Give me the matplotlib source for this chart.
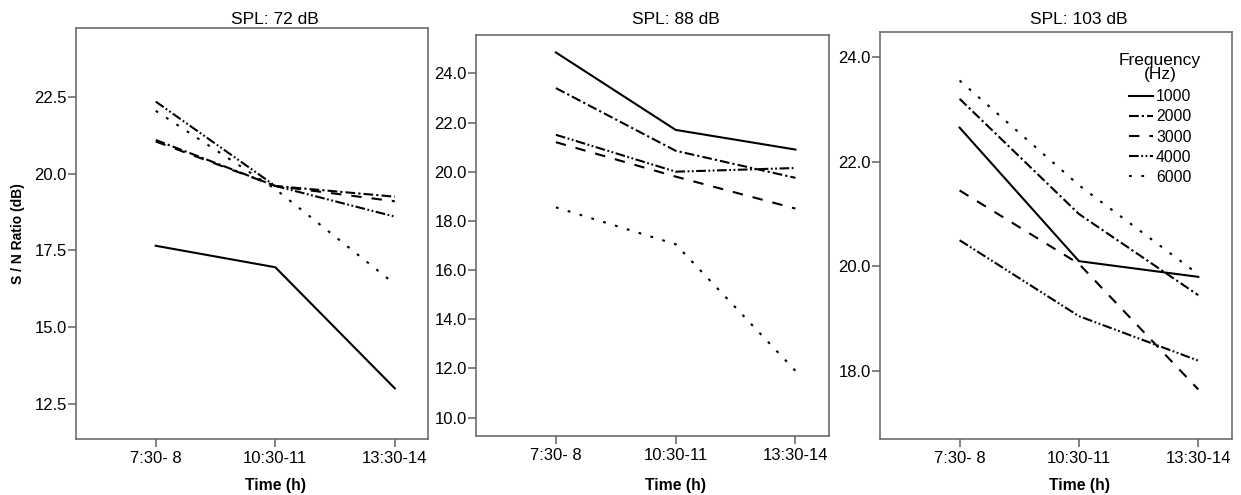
import matplotlib
matplotlib.use('Agg')
import matplotlib.pyplot as plt
import matplotlib.transforms as mtransforms

plt.rcParams['font.family'] = ['Liberation Sans', 'DejaVu Sans']
plt.rcParams['lines.scale_dashes'] = False

# Data (S/N ratio in dB)
times = ['7:30- 8', '10:30-11', '13:30-14']
freqs = ['1000', '2000', '3000', '4000', '6000']
spl_titles = ['SPL: 72 dB', 'SPL: 88 dB', 'SPL: 103 dB']

# rows follow freqs order
snr_72 = [
    [17.65, 16.95, 13.0],
    [21.1, 19.6, 19.25],
    [21.05, 19.6, 19.1],
    [22.35, 19.6, 18.6],
    [22.05, 19.5, 16.4],
]
snr_88 = [
    [24.85, 21.7, 20.9],
    [23.4, 20.85, 19.75],
    [21.2, 19.8, 18.5],
    [21.5, 20.0, 20.15],
    [18.55, 17.05, 11.9],
]
snr_103 = [
    [22.65, 20.1, 19.8],
    [23.2, 21.0, 19.45],
    [21.45, 20.05, 17.65],
    [20.5, 19.05, 18.2],
    [23.55, 21.55, 19.85],
]
panels = [snr_72, snr_88, snr_103]

y_limits = [(11.36, 24.74), (9.27, 25.56), (16.70, 24.47)]
y_ticks = [[12.5, 15.0, 17.5, 20.0, 22.5],
           [10.0, 12.0, 14.0, 16.0, 18.0, 20.0, 22.0, 24.0],
           [18.0, 20.0, 22.0, 24.0]]

styles = [
    '-',
    (0, (7, 2.2, 1.6, 2.2)),
    (0, (7.5, 7.2)),
    (0, (7, 1.8, 1.3, 1.8, 1.3, 1.8)),
    (0, (2, 6.9)),
]

W, H = 1241, 495
# axes boxes in pixels: left, top, right, bottom
boxes = [(76, 28.3, 428.3, 438.7), (476, 35, 829, 435.5), (880, 32.3, 1231.7, 439.2)]

fig = plt.figure(figsize=(W / 100, H / 100), dpi=100)
frame_col = '#606060'

for i, data in enumerate(panels):
    l, t, r, b = boxes[i]
    ax = fig.add_axes([l / W, 1 - b / H, (r - l) / W, (b - t) / H])
    for k, f in enumerate(freqs):
        ax.plot(range(len(times)), data[k], color='black', linewidth=1.5,
                linestyle=styles[k], label=f, dash_capstyle='butt')
    ax.set_xlim(-0.667, 2.28)
    ax.set_ylim(*y_limits[i])
    ax.set_xticks(range(len(times)))
    ax.set_xticklabels(times)
    ax.set_yticks(y_ticks[i])
    ax.set_yticklabels([f'{v:.1f}' for v in y_ticks[i]])
    for s in ax.spines.values():
        s.set_color(frame_col)
        s.set_linewidth(1.1)
    ax.tick_params(axis='both', color=frame_col, width=1.1, length=5.5,
                   labelsize=12, labelcolor='black')
    ax.tick_params(axis='x', pad=3.2)
    ax.tick_params(axis='y', pad=1)

    trans = mtransforms.blended_transform_factory(ax.transData, fig.transFigure)
    ax.text(1, 1 - 19.5 / H, spl_titles[i], transform=trans, ha='center', va='center',
            fontsize=12.5)

    ax.set_xlabel('Time (h)', fontsize=11.3, fontweight='bold')
    ax.xaxis.label.set_va('center')
    ax.xaxis.set_label_coords(0.566, -(485.7 - b) / (b - t))

    if i == 0:
        ax.set_ylabel('S / N Ratio (dB)', fontsize=10, fontweight='bold')
        ax.yaxis.label.set_va('center')
        ax.yaxis.set_label_coords(-(l - 18) / (r - l), 0.5)

    if i == 2:
        leg = ax.legend(title='Frequency\n(Hz)', loc='upper center',
                        bbox_to_anchor=(1160 / W, 1 - 45 / H),
                        bbox_transform=fig.transFigure, frameon=False,
                        fontsize=11.3, title_fontsize=12.5, handlelength=1.55,
                        handletextpad=0.2, labelspacing=0.33, borderpad=0)
        leg.get_title().set_multialignment('center')
        leg.get_title().set_linespacing(0.95)
        leg._legend_box.sep = 5

fig.savefig('out.png', dpi=100)
